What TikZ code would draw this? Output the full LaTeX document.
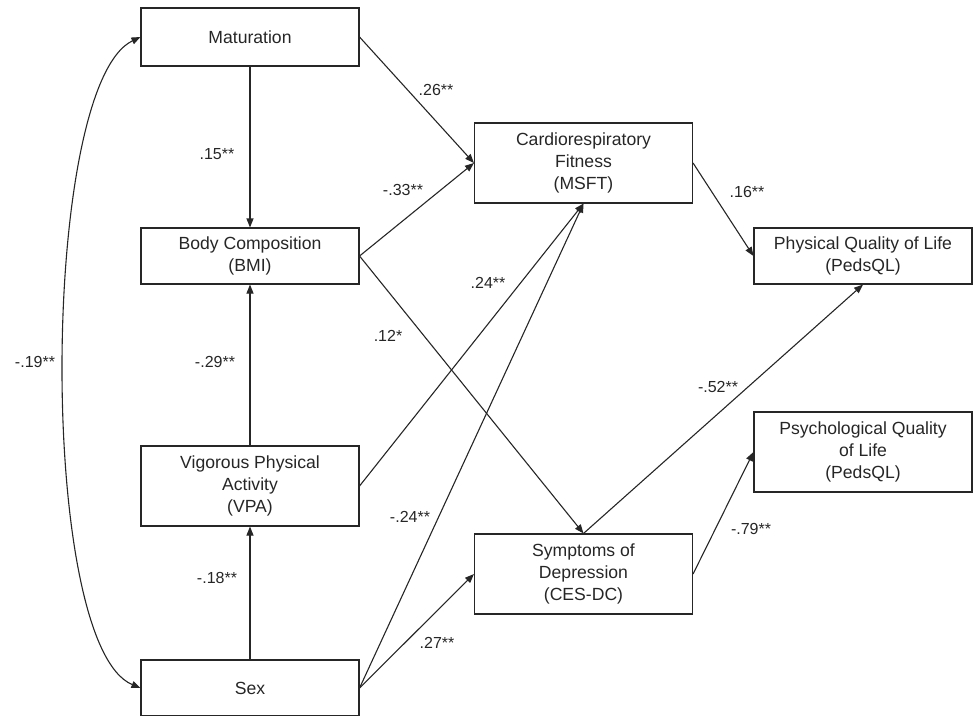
\documentclass[tikz,border=0pt]{standalone}
\usepackage{fontspec}
\setmainfont{Liberation Sans}
\usetikzlibrary{arrows.meta}

\begin{document}
\begin{tikzpicture}[x=1pt,y=-1pt,
    var/.style={draw=black!85,line width=1.1pt,minimum width=218pt,align=center,
      font=\fontsize{17.6}{22}\selectfont,text=black!85,inner sep=0pt},
    coef/.style={font=\fontsize{16}{18}\selectfont,text=black!85,inner sep=0pt},
    path/.style={draw=black!85,line width=1.1pt,-{Triangle[length=9pt,width=7pt]}}]
      \useasboundingbox (0,0) rectangle (973,715);
      \node[var,minimum height=58pt] (mat) at (250,37) {Maturation};
      \node[var,minimum height=56pt] (bmi) at (250,256) {Body Composition\\(BMI)};
      \node[var,minimum height=80pt] (vpa) at (250,486) {Vigorous Physical\\Activity\\(VPA)};
      \node[var,minimum height=56pt] (sex) at (250,688) {Sex};
      \node[var,minimum height=80pt] (crf) at (583.5,163) {Cardiorespiratory\\Fitness\\(MSFT)};
      \node[var,minimum height=80pt] (dep) at (583.5,574) {Symptoms of\\Depression\\(CES-DC)};
      \node[var,minimum height=56pt] (pql) at (863,256) {Physical Quality of Life\\(PedsQL)};
      \node[var,minimum height=80pt] (psy) at (863,452) {Psychological Quality\\of Life\\(PedsQL)};

      \draw[path,{Triangle[length=9pt,width=7pt]}-{Triangle[length=9pt,width=7pt]}]
        (mat.west) .. controls (40,85) and (37,645) .. (sex.west);
      \draw[path] (mat.south) -- (bmi.north);
      \draw[path] (vpa.north) -- (bmi.south);
      \draw[path] (sex.north) -- (vpa.south);
      \draw[path] (mat.east) -- (crf.west);
      \draw[path] (bmi.east) -- (crf.west);
      \draw[path] (bmi.east) -- (dep.north);
      \draw[path] (vpa.east) -- (crf.south);
      \draw[path] (sex.east) -- (crf.south);
      \draw[path] (sex.east) -- (dep.west);
      \draw[path] (crf.east) -- (pql.west);
      \draw[path] (dep.north) -- (pql.south);
      \draw[path] (dep.east) -- (psy.west);

      \node[coef] (c19) at (35,362) {-.19**};
      \node[coef] (c15) at (217,154) {.15**};
      \node[coef] (c29) at (215,362) {-.29**};
      \node[coef] (c18) at (217,578) {-.18**};
      \node[coef] (c26) at (436,90) {.26**};
      \node[coef] (c33) at (403,190) {-.33**};
      \node[coef] (c24a) at (488,283) {.24**};
      \node[coef] (c12) at (388,336) {.12*};
      \node[coef] (c24b) at (410,517) {-.24**};
      \node[coef] (c27) at (437,643) {.27**};
      \node[coef] (c16) at (747,192) {.16**};
      \node[coef] (c52) at (718,387) {-.52**};
      \node[coef] (c79) at (751,529) {-.79**};
    \end{tikzpicture}
\end{document}
